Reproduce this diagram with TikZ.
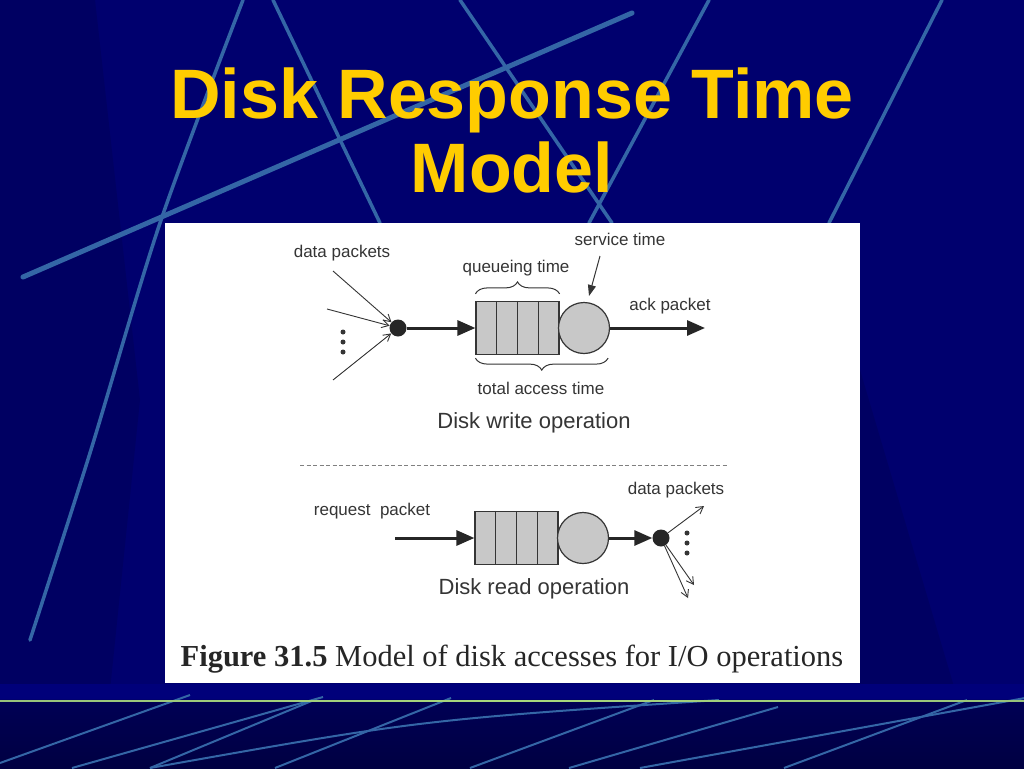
\documentclass[tikz,border=0pt]{standalone}
\usepackage{fontspec}
\setmainfont{Liberation Serif}
\newfontfamily\labelfont{Liberation Sans}
\usepackage{tikz}
\usetikzlibrary{arrows.meta,calc,decorations.pathreplacing,positioning}
\definecolor{slidebg}{HTML}{00006E}
\definecolor{slidedark}{HTML}{000062}
\definecolor{slidestrip}{HTML}{00007A}
\definecolor{bandtop}{HTML}{000054}
\definecolor{bandbottom}{HTML}{000042}
\definecolor{slideline}{HTML}{3466A6}
\definecolor{greenline}{HTML}{A8D87C}
\definecolor{greenend}{HTML}{3C4C74}
\definecolor{titleyellow}{HTML}{FFCC00}
\definecolor{inkgray}{HTML}{353535}
\definecolor{cellgray}{HTML}{C8C8C8}
\pgfdeclarehorizontalshading{greenbar}{4bp}{color(0bp)=(greenend); color(18bp)=(greenline!80!greenend); color(50bp)=(greenline); color(82bp)=(greenline!80!greenend); color(100bp)=(greenend)}

\begin{document}
\begin{tikzpicture}[x=1pt,y=-1pt,
  bgline/.style={slideline,line width=3.5pt,line cap=round},
  lowline/.style={slideline,line width=2pt},
  lbl/.style={inkgray,font=\labelfont\fontsize{17}{19}\selectfont,inner sep=0pt},
  oplbl/.style={inkgray,font=\labelfont\fontsize{22}{24}\selectfont,inner sep=0pt},
  queue/.style={draw=inkgray,fill=cellgray,line width=1.2pt,minimum width=83pt,minimum height=53pt,inner sep=0pt},
  server/.style={circle,draw=inkgray,fill=cellgray,line width=1.2pt,minimum size=51pt,inner sep=0pt},
  junction/.style={circle,fill=black!85,minimum size=17pt,inner sep=0pt},
  dotmark/.style={circle,fill=inkgray,minimum size=5pt,inner sep=0pt},
  bigarrow/.style={black!85,line width=3pt,-{Triangle[length=18pt,width=15pt]}},
  thinarrow/.style={inkgray,line width=0.9pt,-{Straight Barb[length=7pt,width=8pt]}},
  ptr/.style={inkgray,line width=1pt,-{Triangle[length=11pt,width=8pt]}},
  bracemark/.style={inkgray,line width=1pt,decorate,decoration={brace,amplitude=12pt}}]
\useasboundingbox (0,0) rectangle (1024,768);
\clip (0,0) rectangle (1024,768);
\fill[slidebg] (0,0) rectangle (1024,768);
\fill[slidedark] (0,0) -- (95,0) -- (140,400) -- (110,690) -- (0,690) -- cycle;
\fill[slidedark] (860,370) -- (955,690) -- (860,690) -- cycle;
\draw[bgline] plot[smooth] coordinates {(243,0) (160,223) (90,453) (30,640)};
\draw[bgline,line width=5pt] (23,277) -- (632,13);
\draw[bgline] (273,0) -- (380,223);
\draw[bgline] (460,0) -- (612,223);
\draw[bgline] (709,0) -- (589,223);
\draw[bgline] (942,0) -- (829,223);
\fill[white] (165,223) rectangle (860,683);
\fill[slidestrip] (0,684) rectangle (1024,699);
\shade[top color=bandtop,bottom color=bandbottom] (0,702) rectangle (1024,768);
\draw[lowline] (190,695) -- (0,763);
\draw[lowline] (323,697) -- (72,768);
\draw[lowline] (314,700) -- (150,768);
\draw[lowline] (451,698) -- (275,768);
\draw[lowline] (150,768) .. controls (420,720) .. (719,700);
\draw[lowline] (654,700) -- (470,768);
\draw[lowline] (778,707) -- (569,768);
\draw[lowline] (1025,698) -- (640,768);
\draw[lowline] (967,700) -- (784,768);
\shade[shading=greenbar] (0,698.5) rectangle (1024,703.5);

\node[titleyellow,font=\labelfont\bfseries\fontsize{70}{74}\selectfont,anchor=base] (title1) at (512,118) {Disk Response Time};
\node[titleyellow,font=\labelfont\bfseries\fontsize{70}{74}\selectfont,anchor=base] (title2) at (512,192) {Model};

\node[queue] (wq) at (517.5,328) {};
\foreach \i in {1,2,3}
  \draw[inkgray,line width=1.2pt] ([xshift=\i*21pt]wq.north west) -- ([xshift=\i*21pt]wq.south west);
\node[server] (ws) at (584,328) {};
\node[junction] (wd) at (398,328) {};
\coordinate (in1) at (333,271);
\coordinate (in2) at (327,309);
\coordinate (in3) at (333,380);
\foreach \c in {in1,in2,in3}
  \draw[thinarrow] (\c) -- (wd);
\foreach \y in {332,342,352}
  \node[dotmark] (wdot\y) at (343,\y) {};
\draw[bigarrow] (wd) -- (wq);
\coordinate (ackend) at (705,328);
\draw[bigarrow] (ws.east) -- (ackend);
\coordinate (svctail) at (600,256);
\coordinate (svctip) at (589,296);
\draw[ptr] (svctail) -- (svctip);
\draw[bracemark] ([yshift=7pt]wq.north west) -- ([yshift=7pt]wq.north east);
\draw[bracemark] ($(ws.east |- wq.south)+(-2,3)$) -- ($(wq.south west)+(0,3)$);
\node[lbl] (wpk) at (342,253) {data packets};
\node[lbl] (qtm) at (516,268) {queueing time};
\node[lbl] (stm) at (620,239) {service time};
\node[lbl] (ack) at (670,306) {ack packet};
\node[lbl] (tat) at (541,388) {total access time};
\node[oplbl] (wop) at (534,423) {Disk write operation};

\draw[gray,line width=1pt,dash pattern=on 4pt off 2.5pt] (300,465) -- (727,465);

\node[queue] (rq) at (516.5,538) {};
\foreach \i in {1,2,3}
  \draw[inkgray,line width=1.2pt] ([xshift=\i*21pt]rq.north west) -- ([xshift=\i*21pt]rq.south west);
\node[server] (rs) at (583,538) {};
\node[junction] (rd) at (661,538) {};
\coordinate (reqtail) at (395,538);
\draw[bigarrow] (reqtail) -- (rq);
\draw[bigarrow] (rs) -- (rd);
\coordinate (out1) at (704,506);
\coordinate (out2) at (694,585);
\coordinate (out3) at (688,598);
\foreach \c in {out1,out2,out3}
  \draw[thinarrow] (rd) -- (\c);
\foreach \y in {533,543,553}
  \node[dotmark] (rdot\y) at (687,\y) {};
\node[lbl] (req) at (372,511) {request\ \ packet};
\node[lbl] (rpk) at (676,490) {data packets};
\node[oplbl] (rop) at (534,589) {Disk read operation};

\node[black!85,font=\fontsize{30.5}{32}\selectfont,inner sep=0pt] (cap) at (512,659) {\textbf{Figure 31.5} Model of disk accesses for I/O operations};
\end{tikzpicture}
\end{document}
